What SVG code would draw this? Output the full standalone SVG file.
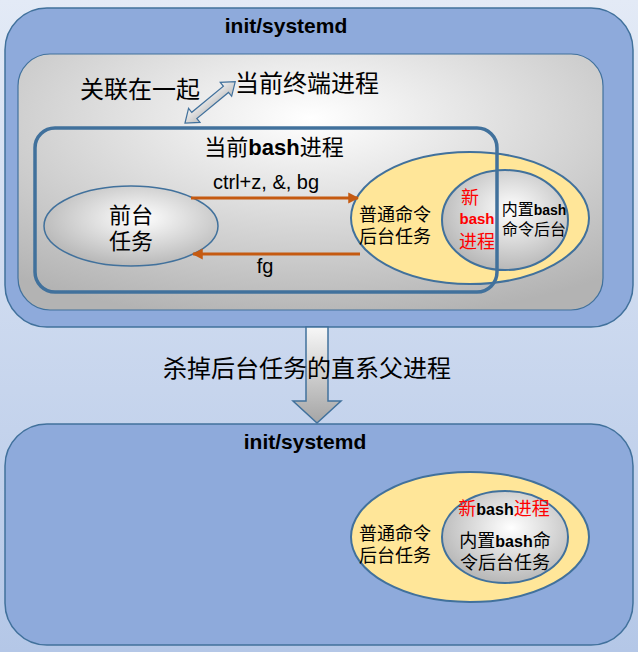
<svg xmlns="http://www.w3.org/2000/svg" width="638" height="652" viewBox="0 0 638 652">
<defs>
<linearGradient id="bg" x1="0" y1="0" x2="0" y2="1">
<stop offset="0" stop-color="#e3eaf6"/>
<stop offset="1" stop-color="#b4c7e7"/>
</linearGradient>
<radialGradient id="grayBox" cx="50%" cy="25%" r="80%">
<stop offset="0" stop-color="#ffffff"/>
<stop offset="1" stop-color="#b3b3b3"/>
</radialGradient>
<radialGradient id="grayEll" cx="55%" cy="40%" r="60%">
<stop offset="0" stop-color="#ffffff"/>
<stop offset="1" stop-color="#b8b8b8"/>
</radialGradient>
<linearGradient id="arrowFill" x1="0" y1="0" x2="0" y2="1">
<stop offset="0" stop-color="#f7f7f7"/>
<stop offset="1" stop-color="#a5a5a5"/>
</linearGradient>
<linearGradient id="dblFill" x1="0" y1="0" x2="0" y2="1">
<stop offset="0" stop-color="#f2f2f2"/>
<stop offset="1" stop-color="#bfbfbf"/>
</linearGradient>
<marker id="orangeHead" viewBox="0 0 10 10" refX="9" refY="5" markerWidth="3.6" markerHeight="4" orient="auto" markerUnits="strokeWidth">
<path d="M0,0 L10,5 L0,10 z" fill="#c55a11"/>
</marker>
<style>
.box{fill:#8eaadb;stroke:#41719c;stroke-width:1.5}
.cjk{font-family:"Noto Sans CJK SC","Noto Sans",sans-serif;fill:#000}
.lat{font-family:"Liberation Sans",Arial,sans-serif;fill:#000}
.b{font-weight:bold}
.red{fill:#ff0000}
.orange{stroke:#c55a11;stroke-width:3;fill:none;marker-end:url(#orangeHead)}
</style>
</defs>
<rect width="638" height="652" fill="url(#bg)"/>

<g id="top-systemd">
<rect class="box" x="5" y="8" width="628" height="319" rx="42"/>
<text class="lat b" x="286" y="33" font-size="21" text-anchor="middle">init/systemd</text>
</g>

<g id="terminal">
<rect x="18" y="54" width="585" height="256" rx="32" fill="url(#grayBox)" stroke="#41719c" stroke-width="1.2"/>
<text class="cjk" x="235" y="92" font-size="24">当前终端进程</text>
</g>

<g id="foreground">
<ellipse cx="131" cy="226" rx="87" ry="40" fill="url(#grayEll)" stroke="#41719c" stroke-width="1.5"/>
<text class="cjk" x="131" y="223" font-size="22" text-anchor="middle">前台</text>
<text class="cjk" x="131" y="249" font-size="22" text-anchor="middle">任务</text>
</g>

<g id="background-top">
<ellipse cx="470" cy="218" rx="119" ry="66" fill="#ffe699" stroke="#41719c" stroke-width="2"/>
<text class="cjk" x="359" y="221" font-size="18">普通命令</text>
<text class="cjk" x="359" y="243" font-size="18">后台任务</text>
</g>

<g id="newbash-top">
<ellipse cx="505" cy="220" rx="63" ry="50" fill="url(#grayEll)" stroke="#41719c" stroke-width="2"/>
<text class="cjk red" x="470" y="204" font-size="18" text-anchor="middle">新</text>
<text class="lat b red" x="477" y="224" font-size="15" text-anchor="middle">bash</text>
<text class="cjk red" x="477" y="248" font-size="18" text-anchor="middle">进程</text>
<text class="cjk" x="534" y="215" font-size="16" text-anchor="middle">内置<tspan class="lat b" font-size="14">bash</tspan></text>
<text class="cjk" x="534" y="235" font-size="16" text-anchor="middle">命令后台</text>
</g>

<g id="bash">
<rect x="35" y="128" width="462" height="164" rx="20" fill="none" stroke="#41719c" stroke-width="3.5"/>
<text class="cjk" x="274" y="155" font-size="22" text-anchor="middle">当前<tspan class="lat b">bash</tspan>进程</text>
</g>

<g id="bottom-systemd">
<rect class="box" x="5" y="424" width="628" height="221" rx="42"/>
<text class="lat b" x="305" y="449" font-size="21" text-anchor="middle">init/systemd</text>
</g>

<g id="background-bottom">
<ellipse cx="470" cy="537" rx="119" ry="65" fill="#ffe699" stroke="#41719c" stroke-width="2"/>
<text class="cjk" x="359" y="540" font-size="18">普通命令</text>
<text class="cjk" x="359" y="562" font-size="18">后台任务</text>
</g>

<g id="newbash-bottom">
<ellipse cx="505" cy="537" rx="63" ry="46" fill="url(#grayEll)" stroke="#41719c" stroke-width="2"/>
<text class="cjk red" x="504" y="515" font-size="18" text-anchor="middle">新<tspan class="lat b" font-size="16">bash</tspan>进程</text>
<text class="cjk" x="505" y="547" font-size="18" text-anchor="middle">内置<tspan class="lat b" font-size="16">bash</tspan>命</text>
<text class="cjk" x="505" y="569" font-size="18" text-anchor="middle">令后台任务</text>
</g>

<g id="connectors">
<polygon points="0,0 12,-9 12,-4 53,-4 53,-9 65,0 53,9 53,4 12,4 12,9" transform="translate(185,123) rotate(-39.4)" fill="url(#dblFill)" stroke="#41719c" stroke-width="1.2"/>
<text class="cjk" x="80" y="98" font-size="24">关联在一起</text>
<line class="orange" x1="191" y1="198" x2="358" y2="198"/>
<text class="lat" x="266" y="189" font-size="20" text-anchor="middle">ctrl+z, &amp;, bg</text>
<line class="orange" x1="360" y1="254" x2="193" y2="254"/>
<text class="lat" x="265" y="273" font-size="20" text-anchor="middle">fg</text>
<polygon points="306,327 328,327 328,401 341,401 317,423 293,401 306,401" fill="url(#arrowFill)" stroke="#41719c" stroke-width="1.5"/>
<text class="cjk" x="163" y="377" font-size="24">杀掉后台任务的直系父进程</text>
</g>
</svg>
